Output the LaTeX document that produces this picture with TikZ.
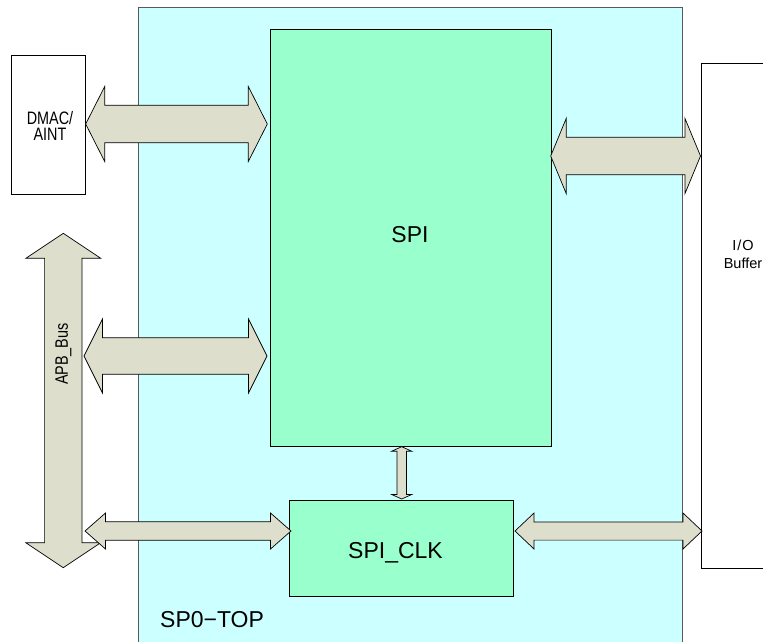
\documentclass[tikz,border=0pt]{standalone}
\usepackage{fontspec}
\setmainfont{Liberation Sans}
\newfontfamily\narrowfont[FakeStretch=0.8]{Liberation Sans}
\definecolor{topbg}{RGB}{204,255,255}
\definecolor{blockbg}{RGB}{153,255,204}
\definecolor{arrowbg}{RGB}{221,223,204}
\tikzset{
  frame/.style={draw=black!65, line width=0.9pt, fill=topbg, inner sep=0pt, outer sep=0pt},
  block/.style={draw=black, line width=0.8pt, fill=blockbg, inner sep=0pt, outer sep=0pt},
  extbox/.style={draw=black, line width=0.7pt, fill=white, inner sep=0pt, outer sep=0pt},
  barrow/.style={draw=black, line width=0.7pt, fill=arrowbg, line join=miter},
  bigtext/.style={font=\fontsize{23}{27}\selectfont, inner sep=0pt},
  smalltext/.style={font=\narrowfont\fontsize{18}{16.5}\selectfont, inner sep=0pt, align=center},
}
% horizontal block arrow: x1, x2, y, head length, head half width, shaft half width
\newcommand\HArrowShape[6]{%
  \draw[barrow] (#1,#3) -- (#1+#4,#3-#5) -- (#1+#4,#3-#6) -- (#2-#4,#3-#6) -- (#2-#4,#3-#5) -- (#2,#3)
    -- (#2-#4,#3+#5) -- (#2-#4,#3+#6) -- (#1+#4,#3+#6) -- (#1+#4,#3+#5) -- cycle;}
% vertical block arrow: y1, y2, x, head length, head half width, shaft half width
\newcommand\VArrowShape[6]{%
  \draw[barrow] (#3,#1) -- (#3-#5,#1+#4) -- (#3-#6,#1+#4) -- (#3-#6,#2-#4) -- (#3-#5,#2-#4) -- (#3,#2)
    -- (#3+#5,#2-#4) -- (#3+#6,#2-#4) -- (#3+#6,#1+#4) -- (#3+#5,#1+#4) -- cycle;}
\begin{document}
\begin{tikzpicture}[x=1pt,y=-1pt]
  \useasboundingbox (0,0) rectangle (763,641);
  \clip (0,0) rectangle (763,641);
  % top-level frame
  \node[frame, anchor=north west, minimum width=544pt, minimum height=650pt] (top) at (138,7) {};
  \node[bigtext, anchor=base west] (toplabel) at (160,627) {SP0−TOP};
  % external boxes
  \node[extbox, anchor=north west, minimum width=74.7pt, minimum height=139pt] (dmac) at (11,55) {};
  \node[smalltext] (dmaclabel) at (50,126) {DMAC/\\AINT};
  \node[extbox, anchor=north west, minimum width=110pt, minimum height=505pt] (io) at (701,63) {};
  \node[font=\fontsize{14.5}{18}\selectfont, inner sep=0pt, align=center] (iolabel) at (743,254) {I\kern1pt/\kern1pt O\\Buffer};
  % inner blocks
  \node[block, anchor=north west, minimum width=281pt, minimum height=417pt] (spi) at (270,29) {};
  \node[bigtext] (spilabel) at (410,235) {SPI};
  \node[block, anchor=north west, minimum width=223.5pt, minimum height=95.3pt] (clk) at (289.5,500.7) {};
  \node[bigtext] (clklabel) at (395.5,552.5) {SPI\_CLK};
  % APB bus
  \VArrowShape{233.3}{567.7}{63.3}{25}{37.5}{18.7}
  \node[smalltext, rotate=90] (apb) at (63.5,354) {APB\_Bus};
  % block arrows
  \HArrowShape{85.7}{267.3}{124}{19}{37.5}{18.8}
  \HArrowShape{84}{267}{356}{18.5}{37}{18.3}
  \HArrowShape{550.7}{700.5}{156}{15.5}{37.5}{18.7}
  \HArrowShape{85}{291}{531}{20.5}{18}{9.2}
  \HArrowShape{515}{702}{531}{19}{18}{9.1}
  \VArrowShape{446.7}{499}{401.7}{4.5}{10}{4.8}
\end{tikzpicture}
\end{document}
